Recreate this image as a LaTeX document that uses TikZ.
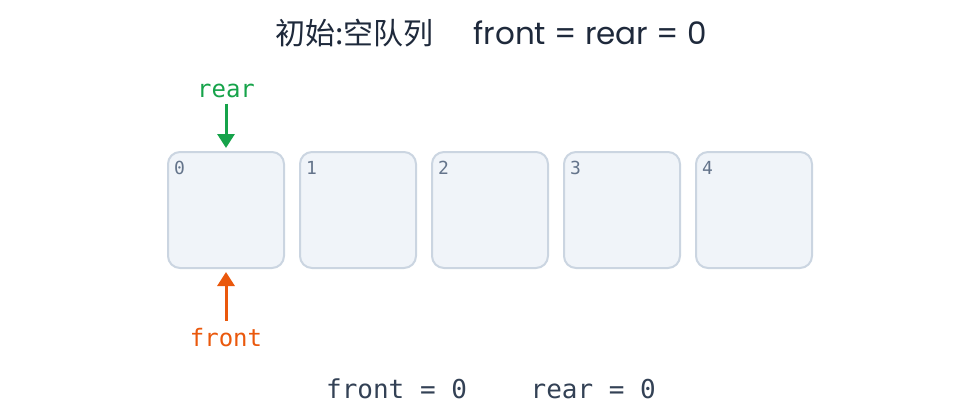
\documentclass[tikz,border=0pt]{standalone}
\usepackage{fontspec}
\setmonofont{DejaVu Sans Mono}
\newfontfamily\cjk{Noto Sans CJK SC}
\newfontfamily\titlelatin{Poppins}
\usetikzlibrary{positioning,arrows.meta}
\definecolor{cellfill}{HTML}{F0F4F9}
\definecolor{cellline}{HTML}{CBD5E1}
\definecolor{idxcol}{HTML}{64748B}
\definecolor{rearcol}{HTML}{16A34A}
\definecolor{frontcol}{HTML}{EA580C}
\definecolor{titlecol}{HTML}{1E293B}
\definecolor{infocol}{HTML}{334155}
\begin{document}
\begin{tikzpicture}
		[x=1pt,y=-1pt,
		cell/.style={rectangle,rounded corners=12pt,draw=cellline,fill=cellfill,line width=2pt,
inner sep=0pt,minimum size=116pt},
		idx/.style={font=\fontsize{18}{18}\ttfamily,text=idxcol,inner sep=0pt,anchor=north west},
		ptrlabel/.style={font=\fontsize{24}{24}\ttfamily,inner sep=0pt},
		ptr/.style={-{Triangle[length=14pt,width=17pt]},line width=3pt}]
		\useasboundingbox (0,0) rectangle (980,420);
		\node at (491, 33) (title) [text=titlecol,font=\titlelatin\fontsize{31}{31}\selectfont] {{\cjk\fontsize{30}{30}\selectfont 初始:空队列}\hspace{40pt}front = rear = 0};
		\foreach \i in {0,...,4} {
			\node at (226+132*\i, 210) (cell\i) [cell] {};
			\node at (174+132*\i, 161) (idx\i) [idx] {\i};
		}
		\node at (226, 97) (rearlbl) [ptrlabel,text=rearcol,anchor=base] {rear};
		\node at (226, 346) (frontlbl) [ptrlabel,text=frontcol,anchor=base] {front};
		\draw[ptr,rearcol,shorten <=6pt,shorten >=3pt] (rearlbl.south) -- (cell0.north);
		\draw[ptr,frontcol,shorten <=7pt,shorten >=3pt] (frontlbl.north) -- (cell0.south);
		\node at (491, 398) (info) [text=infocol,font=\fontsize{26}{26}\ttfamily,anchor=base] {front = 0\hspace{2.45em}rear = 0};
	\end{tikzpicture}
\end{document}
